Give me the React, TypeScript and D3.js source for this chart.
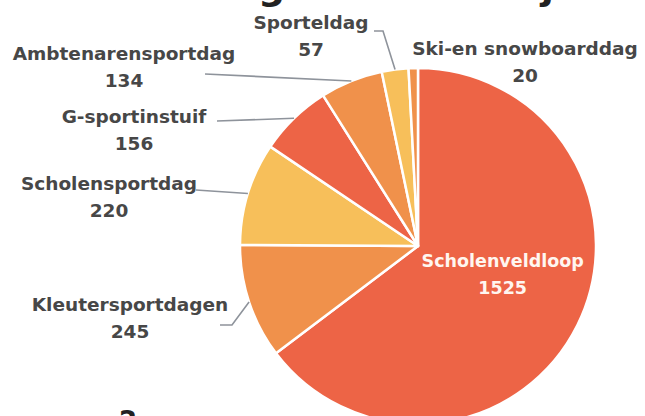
import React from "react";
import * as d3 from "d3";

const categories = [
  "Scholenveldloop",
  "Kleutersportdagen",
  "Scholensportdag",
  "G-sportinstuif",
  "Ambtenarensportdag",
  "Sporteldag",
  "Ski-en snowboarddag",
];
const values = [1525, 245, 220, 156, 134, 57, 20];
const sliceColors = ["#ED6446", "#F0914B", "#F7BF5A", "#ED6446", "#F0914B", "#F7BF5A", "#F0914B"];
const titleText = "Overzicht deelnemers organisatie dit jaar";
const footText = "2";

const W = 645;
const H = 416;
const cx = 418;
const cy = 246;
const R = 178;

// label layout: centre x, first baseline y, leader points from label side
const layout: Record<string, { x: number; y: number; lead?: [number, number][]; inside?: boolean }> = {
  Scholenveldloop: { x: 503, y: 267, inside: true },
  Kleutersportdagen: { x: 130, y: 311, lead: [[220, 325], [232, 325]] },
  Scholensportdag: { x: 109, y: 190, lead: [[196, 190]] },
  "G-sportinstuif": { x: 134, y: 123, lead: [[217, 121]] },
  Ambtenarensportdag: { x: 124, y: 60, lead: [[205, 74]] },
  Sporteldag: { x: 311, y: 29, lead: [[374, 31], [383, 31]] },
  "Ski-en snowboarddag": { x: 525, y: 55 },
};

export default function App() {
  const data = categories.map((c, i) => ({ name: c, value: values[i], color: sliceColors[i] }));
  const pie = d3.pie<any>().value((d) => d.value).sort(null);
  const arcs = pie(data);
  const arc = d3.arc<any>().innerRadius(0).outerRadius(R);
  const edgeArc = d3.arc<any>().innerRadius(R).outerRadius(R);
  const midArc = d3.arc<any>().innerRadius(0).outerRadius(R);
  const line = d3.line();
  const font = "'DejaVu Sans', sans-serif";

  return (
    <svg width={W} height={H} style={{ display: "block", position: "absolute", left: 0, top: 0 }}>
      <rect width={W} height={H} fill="#fff" />
      <text x={-269} y={-1} textAnchor="start" fontFamily={font} fontWeight="bold" fontSize={38} fill="#222">
        {titleText}
      </text>
      <g transform={`translate(${cx},${cy})`}>
        {arcs.map((a, i) => (
          <path key={i} d={arc(a) as string} fill={a.data.color} stroke="#fff" strokeWidth={2.5} strokeLinejoin="round" />
        ))}
      </g>
      {arcs.map((a, i) => {
        const L = layout[a.data.name];
        if (!L || !L.lead) return null;
        const [ex, ey] = edgeArc.centroid(a);
        const pts: [number, number][] = [...L.lead, [ex + cx, ey + cy]];
        return <path key={"l" + i} d={line(pts) as string} fill="none" stroke="#8E939B" strokeWidth={1.6} />;
      })}
      {arcs.map((a, i) => {
        const L = layout[a.data.name];
        let x = L.x;
        let y = L.y;
        if (L.inside) {
          const [mx, my] = midArc.centroid(a);
          x = cx + mx + 5;
          y = cy + my - 19;
        }
        const fill = L.inside ? "#FFF6F0" : "#474747";
        const fs = L.inside ? 17.5 : 18.5;
        return (
          <text key={"t" + i} textAnchor="middle" fontFamily={font} fontWeight="bold" fontSize={fs} fill={fill}>
            <tspan x={x} y={y}>{a.data.name}</tspan>
            <tspan x={x} y={y + 27}>{String(a.data.value)}</tspan>
          </text>
        );
      })}
      <text x={128} y={430} textAnchor="middle" fontFamily={font} fontWeight="bold" fontSize={26} fill="#222">
        {footText}
      </text>
    </svg>
  );
}
